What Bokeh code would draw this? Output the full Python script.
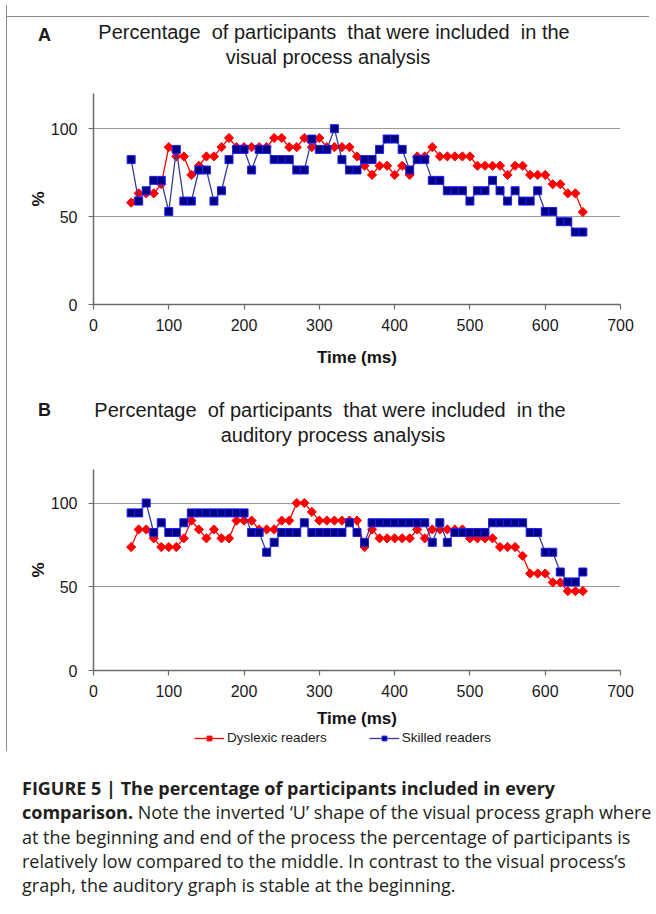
from bokeh.plotting import figure
from bokeh.models import FixedTicker, Legend, LegendItem, Div, Range1d, Spacer
from bokeh.layouts import column, row
from bokeh.embed import file_html
from bokeh.resources import INLINE

# ---------------- data ----------------
time_ms = [50, 60, 70, 80, 90, 100, 110, 120, 130, 140,
           150, 160, 170, 180, 190, 200, 210, 220, 230, 240,
           250, 260, 270, 280, 290, 300, 310, 320, 330, 340,
           350, 360, 370, 380, 390, 400, 410, 420, 430, 440,
           450, 460, 470, 480, 490, 500, 510, 520, 530, 540,
           550, 560, 570, 580, 590, 600, 610, 620, 630, 640, 650]

visual_dyslexic = [57.9, 63.2, 63.2, 63.2, 68.4, 89.5, 84.2, 84.2, 73.7, 78.9,
                   84.2, 84.2, 89.5, 94.7, 89.5, 89.5, 89.5, 89.5, 89.5, 94.7,
                   94.7, 89.5, 89.5, 94.7, 89.5, 94.7, 89.5, 89.5, 89.5, 89.5,
                   84.2, 78.9, 73.7, 78.9, 78.9, 73.7, 78.9, 73.7, 84.2, 84.2,
                   89.5, 84.2, 84.2, 84.2, 84.2, 84.2, 78.9, 78.9, 78.9, 78.9,
                   73.7, 78.9, 78.9, 73.7, 73.7, 73.7, 68.4, 68.4, 63.2, 63.2, 52.6]

visual_skilled = [82.4, 58.8, 64.7, 70.6, 70.6, 52.9, 88.2, 58.8, 58.8, 76.5,
                  76.5, 58.8, 64.7, 82.4, 88.2, 88.2, 76.5, 88.2, 88.2, 82.4,
                  82.4, 82.4, 76.5, 76.5, 94.1, 88.2, 88.2, 100.0, 82.4, 76.5,
                  76.5, 82.4, 82.4, 88.2, 94.1, 94.1, 88.2, 76.5, 82.4, 82.4,
                  70.6, 70.6, 64.7, 64.7, 64.7, 58.8, 64.7, 64.7, 70.6, 64.7,
                  58.8, 64.7, 58.8, 58.8, 64.7, 52.9, 52.9, 47.1, 47.1, 41.2, 41.2]

auditory_dyslexic = [73.7, 84.2, 84.2, 78.9, 73.7, 73.7, 73.7, 78.9, 89.5, 84.2,
                     78.9, 84.2, 78.9, 78.9, 89.5, 89.5, 89.5, 84.2, 84.2, 84.2,
                     89.5, 89.5, 100.0, 100.0, 94.7, 89.5, 89.5, 89.5, 89.5, 89.5,
                     89.5, 73.7, 84.2, 78.9, 78.9, 78.9, 78.9, 78.9, 84.2, 78.9,
                     84.2, 84.2, 84.2, 84.2, 84.2, 78.9, 78.9, 78.9, 78.9, 73.7,
                     73.7, 73.7, 68.4, 57.9, 57.9, 57.9, 52.6, 52.6, 47.4, 47.4, 47.4]

auditory_skilled = [94.1, 94.1, 100.0, 82.4, 88.2, 82.4, 82.4, 88.2, 94.1, 94.1,
                    94.1, 94.1, 94.1, 94.1, 94.1, 94.1, 82.4, 82.4, 70.6, 76.5,
                    82.4, 82.4, 82.4, 88.2, 82.4, 82.4, 82.4, 82.4, 82.4, 88.2,
                    82.4, 76.5, 88.2, 88.2, 88.2, 88.2, 88.2, 88.2, 88.2, 88.2,
                    76.5, 88.2, 76.5, 82.4, 82.4, 82.4, 82.4, 82.4, 88.2, 88.2,
                    88.2, 88.2, 88.2, 82.4, 82.4, 70.6, 70.6, 58.8, 52.9, 52.9, 58.8]

x_ticks = [0, 100, 200, 300, 400, 500, 600, 700]
y_ticks = [0, 50, 100]
series_names = ["Dyslexic readers", "Skilled readers"]
panel_letters = ["A", "B"]
title_line1 = "Percentage  of participants  that were included  in the"
title_line2 = ["visual process analysis", "auditory process analysis"]

FONT = "Liberation Sans"
RED = "#ff0000"
NAVY = "#000080"
BLUE_EDGE = "#1f1fff"
BLUE_LINE = "#3a3a9a"
BOX = "#8a8a8a"
INNER_W = 642


def title_div(letter, t2, height, letter_top, l1_top, l1_cx, l2_cx):
    html = (
        f'<div style="position:relative;width:{INNER_W}px;height:{height}px;'
        f'font-family:\'{FONT}\';color:#1a1a1a;font-size:20px;line-height:25px;">'
        f'<div style="position:absolute;left:31px;top:{letter_top}px;font-weight:bold;font-size:18px;">{letter}</div>'
        f'<div style="position:absolute;left:0;top:{l1_top}px;width:{2 * l1_cx}px;'
        f'text-align:center;white-space:pre;">{title_line1}</div>'
        f'<div style="position:absolute;left:0;top:{l1_top + 25}px;width:{2 * l2_cx}px;'
        f'text-align:center;white-space:pre;">{t2}</div>'
        '</div>'
    )
    return Div(text=html, width=INNER_W, height=height, margin=0)


def hline(w):
    return Div(text=f'<div style="width:{w}px;height:1px;background:{BOX};"></div>',
               width=w, height=1, margin=0)


def vline(h):
    return Div(text=f'<div style="width:1px;height:{h}px;background:{BOX};"></div>',
               width=1, height=h, margin=0)


def style_common(p):
    p.outline_line_color = None
    p.xgrid.visible = False
    p.ygrid.ticker = FixedTicker(ticks=[50, 100])
    p.ygrid.grid_line_color = "#9a9a9a"
    p.ygrid.grid_line_width = 1.2
    for ax in (p.xaxis[0], p.yaxis[0]):
        ax.axis_line_color = "#6a6a6a"
        ax.axis_line_width = 1.5
        ax.major_tick_line_color = "#6a6a6a"
        ax.major_tick_line_width = 1.2
        ax.major_tick_out = 5
        ax.major_tick_in = 0
        ax.minor_tick_line_color = None
        ax.major_label_text_font = FONT
        ax.major_label_text_font_size = "16px"
        ax.major_label_text_color = "#1a1a1a"
        ax.axis_label_text_font = FONT
        ax.axis_label_text_font_style = "bold"
        ax.axis_label_text_font_size = "17px"
        ax.axis_label_text_color = "#111111"
    p.xaxis.ticker = FixedTicker(ticks=x_ticks)
    p.yaxis.ticker = FixedTicker(ticks=y_ticks)
    p.xaxis.axis_label = "Time (ms)"
    p.yaxis.axis_label = "%"
    p.xaxis.major_label_standoff = 9
    p.yaxis.major_label_standoff = 11
    p.yaxis.axis_label_standoff = 0


def draw_series(p, dys, sk):
    r1 = p.line(time_ms, dys, line_color=RED, line_width=1.3)
    r2 = p.scatter(time_ms, dys, marker="square", angle=0.785398, size=6.5,
                   fill_color=RED, line_color=RED, line_width=1)
    r3 = p.line(time_ms, sk, line_color=BLUE_LINE, line_width=1.3)
    r4 = p.scatter(time_ms, sk, marker="square", size=8,
                   fill_color=NAVY, line_color=BLUE_EDGE, line_width=1)
    return r1, r2, r3, r4


def make_panel(dys, sk, height, bottom, xlab_standoff):
    p = figure(width=INNER_W, height=height, x_range=Range1d(0, 700), y_range=Range1d(0, 120),
               output_backend="svg", toolbar_location=None,
               min_border_left=86, min_border_right=29,
               min_border_top=7, min_border_bottom=bottom)
    style_common(p)
    p.xaxis.axis_label_standoff = xlab_standoff
    draw_series(p, dys, sk)
    return p


def legend_strip(height, dys, sk):
    # the series are drawn out of view here; only the legend swatches show
    lf = figure(width=INNER_W, height=height, x_range=Range1d(0, 700),
                y_range=Range1d(500, 600),
                output_backend="svg", toolbar_location=None,
                x_axis_location=None, y_axis_location=None, min_border=0)
    lf.outline_line_color = None
    lf.grid.visible = False
    s1, s2, s3, s4 = draw_series(lf, dys, sk)
    lg = Legend(items=[LegendItem(label=series_names[0], renderers=[s1, s2]),
                       LegendItem(label=series_names[1], renderers=[s3, s4])],
                orientation="horizontal", location=(101, 5))
    lg.border_line_color = None
    lg.background_fill_alpha = 0
    lg.label_text_font = FONT
    lg.label_text_font_size = "13.5px"
    lg.label_text_color = "#1a1a1a"
    lg.glyph_width = 30
    lg.glyph_height = 12
    lg.label_height = 12
    lg.label_standoff = 3
    lg.spacing = 42
    lg.padding = 2
    lg.margin = 0
    lf.add_layout(lg)
    return lf


title_a = title_div(panel_letters[0], title_line2[0], 80, 17, 14, 327, 321)
fig_a = make_panel(visual_dyslexic, visual_skilled, 294, 76, 14)
title_b = title_div(panel_letters[1], title_line2[1], 82, 18, 18, 323, 326)
fig_b = make_panel(auditory_dyslexic, auditory_skilled, 268, 59, 9)
leg = legend_strip(20, auditory_dyslexic, auditory_skilled)

inner = column(hline(INNER_W), title_a, fig_a, title_b, fig_b, leg,
               Spacer(width=INNER_W, height=1), spacing=0)
BOX_H = 1 + 80 + 294 + 82 + 268 + 20 + 1
boxed = row(Spacer(width=6, height=BOX_H), vline(BOX_H), inner, spacing=0)

caption_html = (
    '<div style="font-family:\'Open Sans\'; font-size:18px; line-height:24.3px; '
    'color:#231f20; white-space:nowrap; padding-left:22px; margin-top:25px;">'
    '<b>FIGURE 5 | The percentage of participants included in every</b><br>'
    '<b>comparison.</b> Note the inverted \u2018U\u2019 shape of the visual process graph where<br>'
    'at the beginning and end of the process the percentage of participants is<br>'
    'relatively low compared to the middle. In contrast to the visual process\u2019s<br>'
    'graph, the auditory graph is stable at the beginning.</div>'
)
caption = Div(text=caption_html, width=656, height=155, margin=0)

layout = column(Spacer(width=650, height=5), boxed, caption, spacing=0)

open("out.html", "w").write(file_html(layout, INLINE))
